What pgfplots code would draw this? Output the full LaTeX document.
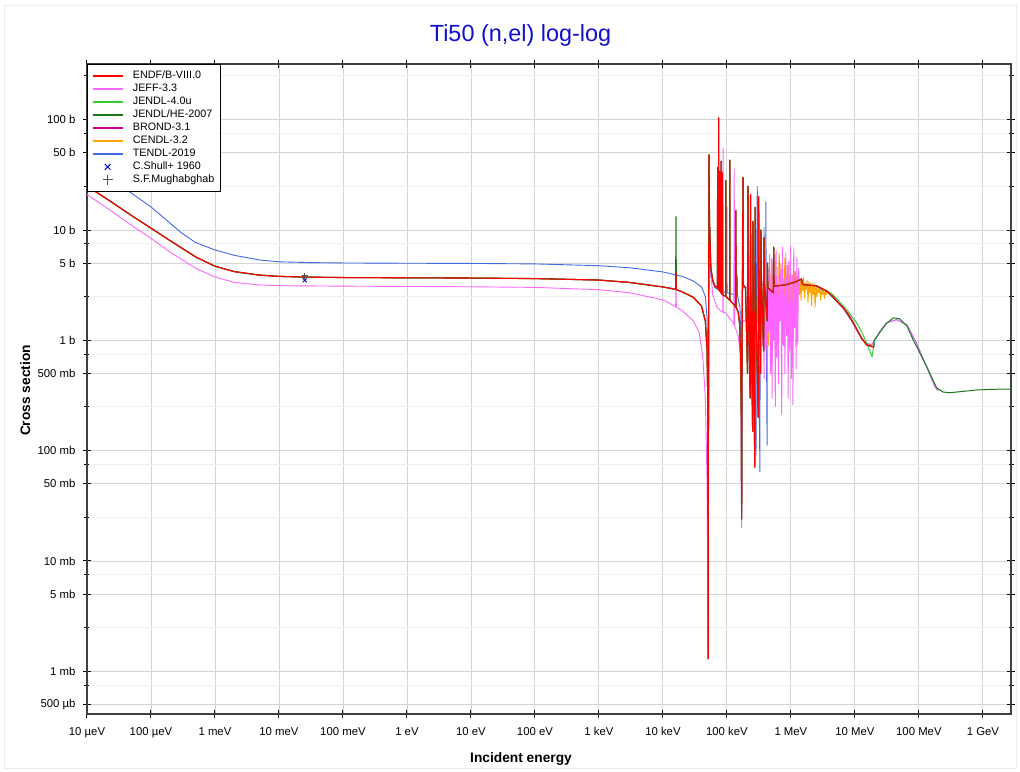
\documentclass[border=0pt]{standalone}
\usepackage{fontspec}
\setmainfont{Liberation Sans}
\usepackage{pgfplots}
\pgfplotsset{compat=1.18}
\usepackage{pgfplotstable}
\definecolor{cEndf}{HTML}{FF0000}
\definecolor{cJeff}{HTML}{FF66FF}
\definecolor{cJendl}{HTML}{33CC33}
\definecolor{cJhe}{HTML}{1A7A1A}
\definecolor{cBrond}{HTML}{CC0099}
\definecolor{cCendl}{HTML}{FFA500}
\definecolor{cTendl}{HTML}{4169E1}
\definecolor{cTitle}{HTML}{1010D0}
\definecolor{cShull}{HTML}{0000CC}
\definecolor{cMugh}{HTML}{555555}

% ENDF/B-VIII.0 (shared shape up to 3.6 MeV)
\pgfplotstableread{
E s
1e-5 25
2e-5 19.3
5e-5 13.5
1e-4 10.4
2e-4 8.0
5e-4 5.7
1e-3 4.7
2e-3 4.2
5e-3 3.9
1e-2 3.8
3e-2 3.74
1e-1 3.71
1 3.69
10 3.67
100 3.63
1000 3.52
3000 3.35
1e4 3.05
1.58e4 2.9
1.6e4 4.1
1.62e4 2.88
2e4 2.75
3e4 2.45
4e4 2.05
4.6e4 1.5
4.9e4 0.8
5.05e4 0.2
5.1e4 0.0013
5.15e4 0.3
5.2e4 5
5.25e4 48
5.35e4 12
5.6e4 4.6
6.0e4 3.5
6.5e4 3.1
7.1e4 3.0
7.15e4 37
7.2e4 3.0
7.38e4 2.9
7.42e4 104
7.46e4 2.9
7.74e4 2.8
7.78e4 34
7.82e4 2.8
8.06e4 2.7
8.1e4 42
8.15e4 2.7
8.46e4 2.6
8.5e4 33
8.55e4 2.6
9.55e4 2.5
9.6e4 28
9.65e4 2.5
1.105e5 2.3
1.11e5 43
1.115e5 2.3
1.3e5 2.1
1.37e5 2.0
1.38e5 15
1.39e5 2.0
1.5e5 1.8
1.58e5 1.4
1.64e5 0.7
1.68e5 0.2
1.70e5 0.024
1.72e5 0.8
1.75e5 3
1.78e5 30
1.80e5 3.2
1.95e5 3.0
2.10e5 0.5
2.13e5 25
2.16e5 2.9
2.31e5 0.3
2.34e5 21
2.37e5 2.9
2.52e5 0.15
2.55e5 12
2.58e5 2.8
2.72e5 0.071
2.76e5 16
2.8e5 2.9
3.09e5 0.2
3.13e5 20
3.17e5 3.6
3.36e5 0.5
3.40e5 10
3.45e5 3.7
3.75e5 0.8
3.8e5 8.5
3.85e5 3.3
4.25e5 1.5
4.3e5 5
4.35e5 3.0
5.3e5 2.7
5.38e5 7
5.45e5 3.1
5.6e5 3.1
8.6e5 3.2
1.2e6 3.4
1.47e6 3.6
1.52e6 3.2
2.5e6 3.12
3.6e6 2.8
}\Tlow

\pgfplotstableread{
E s
3.6e6 2.8
4.5e6 2.5
5.5e6 2.2
6.6e6 1.97
8.0e6 1.7
9.4e6 1.45
1.1e7 1.22
1.27e7 1.05
1.52e7 0.91
1.8e7 0.88
2.0e7 0.87
}\Tendfhi

\pgfplotstableread{
E s
3.6e6 2.85
4.5e6 2.6
5.5e6 2.3
6.6e6 2.05
8.0e6 1.8
9.4e6 1.58
1.07e7 1.44
1.27e7 1.2
1.52e7 0.95
1.86e7 0.71
2.0e7 0.97
}\Tjendlhi

\pgfplotstableread{
E s
1.58e4 2.95
1.6e4 13.2
1.62e4 2.93
}\Tjhespike

\pgfplotstableread{
E s
3.6e6 2.8
6.6e6 1.97
9.4e6 1.45
1.27e7 1.05
1.52e7 0.91
1.99e7 0.88
2.0e7 1.0
2.5e7 1.2
3.0e7 1.4
4.0e7 1.6
5.0e7 1.57
6.5e7 1.35
8.2e7 1.0
1.0e8 0.8
1.32e8 0.58
1.9e8 0.37
2.4e8 0.34
3.0e8 0.335
5e8 0.345
8e8 0.355
1.5e9 0.36
3e9 0.362
}\Tjhehi

\pgfplotstableread{
E s
1e-5 21
2e-5 16
5e-5 11
1e-4 8.4
2e-4 6.3
5e-4 4.5
1e-3 3.75
2e-3 3.35
5e-3 3.18
1e-2 3.13
1e-1 3.1
1 3.08
10 3.06
100 3.02
1000 2.88
3000 2.7
1e4 2.33
1.58e4 2.02
1.6e4 3.5
1.62e4 2.0
2e4 1.85
3e4 1.5
3.7e4 1.17
4.2e4 0.71
4.6e4 0.3
4.9e4 0.05
5.1e4 0.0015
5.2e4 3
5.25e4 45
5.35e4 10
5.6e4 4.2
6.0e4 2.6
7.0e4 2.0
8.0e4 1.85
8.64e4 1.8
8.7e4 55.7
8.76e4 1.8
9.5e4 1.77
1.1e5 1.6
1.28e5 1.4
1.3e5 36
1.32e5 1.35
1.5e5 1.1
1.6e5 0.8
1.66e5 0.3
1.7e5 0.02
1.75e5 1.5
2.0e5 1.5
2.2e5 8
2.25e5 1.5
2.6e5 1.3
2.65e5 6
2.7e5 0.3
2.75e5 1.4
3.0e5 1.5
3.1e5 9
3.2e5 1.2
3.3e5 3.5
3.4e5 0.6
3.5e5 4.2
3.6e5 0.9
3.7e5 2.8
3.81e5 0.45
3.92e5 5.0
4.04e5 0.8
4.16e5 3.0
4.28e5 0.35
4.4e5 4.5
4.53e5 1.2
4.66e5 6.0
4.8e5 0.5
4.94e5 3.8
5.08e5 0.3
5.23e5 5.5
5.38e5 1.0
5.54e5 4.0
5.7e5 0.25
5.87e5 6.5
6.04e5 0.7
6.22e5 3.2
6.4e5 0.4
6.59e5 5.8
6.78e5 1.5
6.98e5 4.4
7.18e5 0.21
7.39e5 7.0
7.61e5 0.9
7.83e5 3.6
8.06e5 0.5
8.3e5 6.2
8.54e5 1.1
8.79e5 4.8
9.05e5 0.3
9.31e5 5.2
9.58e5 0.8
9.86e5 7.2
1.015e6 0.45
1.045e6 3.9
1.075e6 0.26
1.107e6 6.8
1.139e6 1.3
1.172e6 4.2
1.206e6 0.55
1.241e6 5.6
1.278e6 0.9
1.315e6 4.5
1.35e6 3.5
1.47e6 3.6
1.52e6 3.2
2.5e6 3.12
3.6e6 2.8
6.6e6 1.95
9.4e6 1.42
1.27e7 1.03
1.52e7 0.93
1.86e7 0.92
2.46e7 1.2
3.2e7 1.45
4.5e7 1.54
6.5e7 1.38
9.2e7 0.94
1.31e8 0.58
1.78e8 0.38
2.0e8 0.35
}\Tjeff

\pgfplotstableread{
E s
1e-5 40
2e-5 31
5e-5 21.5
1e-4 16.2
2e-4 11.5
3e-4 9.4
5e-4 7.7
1e-3 6.6
2e-3 5.9
5e-3 5.35
1e-2 5.15
3e-2 5.07
1e-1 5.03
1 5.0
10 4.98
100 4.93
1000 4.75
3000 4.55
1e4 4.17
2e4 3.8
3e4 3.45
4e4 3.05
4.6e4 2.5
4.9e4 1.6
5.05e4 0.6
5.12e4 0.0136
5.18e4 0.5
5.25e4 30
5.35e4 8
5.6e4 3.8
6.5e4 3.0
8.0e4 2.8
9.95e4 2.7
1.0e5 16
1.005e5 2.7
1.3e5 2.6
1.32e5 3.9
1.34e5 2.6
1.36e5 10
1.38e5 2.6
1.45e5 3.9
1.47e5 2.5
1.6e5 2.0
1.66e5 0.8
1.69e5 0.021
1.72e5 1.0
1.76e5 26.8
1.80e5 3.0
2.5e5 3.0
2.85e5 0.091
2.9e5 3.0
2.98e5 24.8
3.05e5 3.2
3.28e5 0.064
3.32e5 5.6
3.4e5 3.2
3.78e5 3.2
3.8e5 10.5
3.83e5 3.2
4.05e5 3.2
4.07e5 18
4.1e5 3.1
4.24e5 0.112
4.3e5 3.0
5.5e5 2.8
1e6 2.9
2e6 3.0
3.6e6 2.8
6.6e6 1.95
9.4e6 1.42
1.27e7 1.03
1.52e7 0.93
1.86e7 0.92
2.46e7 1.2
3.2e7 1.45
4.5e7 1.54
6.5e7 1.38
9.2e7 0.94
1.31e8 0.58
1.78e8 0.38
2.0e8 0.35
}\Ttendl

\pgfplotstableread{
E s
3.3e5 3.0
3.5e5 3.3
3.62e5 1.2
3.75e5 4.0
3.88e5 2.0
4.02e5 5.0
4.16e5 1.0
4.31e5 3.6
4.46e5 0.9
4.62e5 4.8
4.78e5 0.87
4.95e5 5.5
5.12e5 1.5
5.3e5 4.2
5.49e5 1.0
5.68e5 6.0
5.88e5 1.8
6.09e5 4.6
6.3e5 0.75
6.52e5 6.2
6.75e5 2.2
6.99e5 5.0
7.23e5 1.2
7.49e5 4.4
7.75e5 0.9
8.02e5 5.6
8.3e5 1.4
8.6e5 4.0
8.9e5 2.0
9.21e5 4.8
9.53e5 1.1
9.87e5 4.5
1.022e6 1.6
1.058e6 3.9
1.095e6 1.0
1.133e6 4.2
1.173e6 2.2
1.214e6 3.8
1.257e6 1.4
1.3e6 3.6
1.32e6 3.5
1.36e6 2.6
1.4e6 3.6
1.44e6 2.3
1.48e6 3.4
1.53e6 2.8
1.58e6 3.7
1.63e6 2.4
1.68e6 3.3
1.73e6 2.9
1.79e6 3.5
1.85e6 2.2
1.91e6 3.4
1.97e6 2.7
2.03e6 3.3
2.1e6 2.05
2.17e6 3.2
2.24e6 2.6
2.31e6 3.3
2.39e6 2.0
2.47e6 3.1
2.55e6 2.5
2.64e6 3.1
2.73e6 2.7
2.82e6 3.0
2.92e6 2.3
3.02e6 3.0
3.12e6 2.6
3.23e6 2.9
3.34e6 2.4
3.46e6 2.85
3.58e6 2.6
3.7e6 2.8
3.83e6 2.7
4.5e6 2.5
5.5e6 2.2
6.6e6 1.97
8.0e6 1.7
9.4e6 1.45
1.1e7 1.22
1.27e7 1.05
1.52e7 0.93
1.8e7 0.92
2.0e7 0.92
}\Tcendl

\begin{document}
\begin{tikzpicture}
\path[use as bounding box] (0,0) rectangle (1020bp,772bp);
\draw[black!8, line width=0.8bp] (4bp,4bp) rectangle (1016bp,767bp);
\begin{axis}[
  at={(87bp,58bp)}, anchor=south west,
  scale only axis, width=924bp, height=650bp,
  xmode=log, ymode=log,
  xmin=1e-5, xmax=2.75e9, ymin=4.1e-4, ymax=320,
  xtick={1e-5,1e-4,1e-3,1e-2,1e-1,1,10,100,1e3,1e4,1e5,1e6,1e7,1e8,1e9},
  xticklabels={10 µeV,100 µeV,1 meV,10 meV,100 meV,1 eV,10 eV,100 eV,1 keV,10 keV,100 keV,1 MeV,10 MeV,100 MeV,1 GeV},
  ytick={5e-4,1e-3,5e-3,1e-2,5e-2,0.1,0.5,1,5,10,50,100},
  yticklabels={500 µb,1 mb,5 mb,10 mb,50 mb,100 mb,500 mb,1 b,5 b,10 b,50 b,100 b},
  minor ytick={7.5e-4,2.5e-3,7.5e-3,2.5e-2,7.5e-2,0.25,0.75,2.5,7.5,25,75,250},
  xminorticks=false,
  xmajorgrids, ymajorgrids, yminorgrids,
  major grid style={color=black!17, line width=0.9bp},
  minor grid style={color=black!6, line width=0.9bp},
  tick label style={font=\fontsize{11.4}{13}\selectfont},
  xticklabel style={yshift=-6bp},
  yticklabel style={xshift=-4bp},
  axis line style={line width=1.3bp},
  y axis line style={line width=2.2bp, draw=black!75},
  tick style={black, line width=1bp},
  major tick length=8bp, minor tick length=5bp,
  tick align=center,
  legend cell align=left,
  legend image code/.code={\draw[mark repeat=2,mark phase=2,#1] plot coordinates {(0bp,0bp) (15bp,0bp) (30bp,0bp)};},
  legend style={at={(0,1)}, anchor=north west, draw=black, line width=0.8bp, fill=white,
    font=\fontsize{10.8}{12}\selectfont, inner xsep=4.5bp, inner ysep=5bp,
    nodes={inner sep=1.5bp, text height=8bp, text depth=2bp},
    row sep=0bp, column sep=8bp},
  every axis plot/.append style={line join=round},
]
\addlegendimage{cEndf, line width=1.5bp}\addlegendentry{ENDF/B-VIII.0}
\addlegendimage{cJeff, line width=1.5bp}\addlegendentry{JEFF-3.3}
\addlegendimage{cJendl, line width=1.5bp}\addlegendentry{JENDL-4.0u}
\addlegendimage{cJhe, line width=1.5bp}\addlegendentry{JENDL/HE-2007}
\addlegendimage{cBrond, line width=1.5bp}\addlegendentry{BROND-3.1}
\addlegendimage{cCendl, line width=1.5bp}\addlegendentry{CENDL-3.2}
\addlegendimage{cTendl, line width=1.5bp}\addlegendentry{TENDL-2019}
\addlegendimage{only marks, mark=x, mark size=4bp, cShull, line width=1bp}\addlegendentry{C.Shull+ 1960}
\addlegendimage{only marks, mark=+, mark size=5bp, cMugh, line width=1bp}\addlegendentry{S.F.Mughabghab}

\addplot[forget plot, cTendl, line width=0.9bp] table {\Ttendl};
\addplot[forget plot, cCendl, line width=0.9bp] table {\Tcendl};
\addplot[forget plot, cJeff, line width=0.9bp] table {\Tjeff};
\addplot[forget plot, cBrond, line width=0.9bp] table {\Tlow};
\addplot[forget plot, cBrond, line width=0.9bp] table {\Tendfhi};
\addplot[forget plot, cJendl, line width=1.0bp] table {\Tlow};
\addplot[forget plot, cJendl, line width=1.0bp] table {\Tjendlhi};
\addplot[forget plot, cJhe, line width=1.1bp] table {\Tlow};
\addplot[forget plot, cJhe, line width=1.1bp] table {\Tjhespike};
\addplot[forget plot, cJhe, line width=1.0bp] table {\Tjhehi};
\addplot[forget plot, cEndf, line width=1.1bp] table {\Tlow};
\addplot[forget plot, cEndf, line width=1.1bp] table {\Tendfhi};
\addplot[forget plot, only marks, mark=+, mark size=3bp, cMugh, line width=0.8bp] coordinates {(0.0253,3.85)};
\addplot[forget plot, only marks, mark=x, mark size=2.8bp, cShull, line width=0.9bp] coordinates {(0.0253,3.5)};
\end{axis}
\node[anchor=base, font=\fontsize{23.5}{28}\selectfont, text=cTitle] at (520.5bp,730.5bp) {Ti50 (n,el) log-log};
\node[anchor=base, font=\fontsize{13.8}{16}\selectfont\bfseries] at (521bp,10bp) {Incident energy};
\node[anchor=base, rotate=90, font=\fontsize{13.8}{16}\selectfont\bfseries] at (30bp,381.5bp) {Cross section};
\end{tikzpicture}
\end{document}
